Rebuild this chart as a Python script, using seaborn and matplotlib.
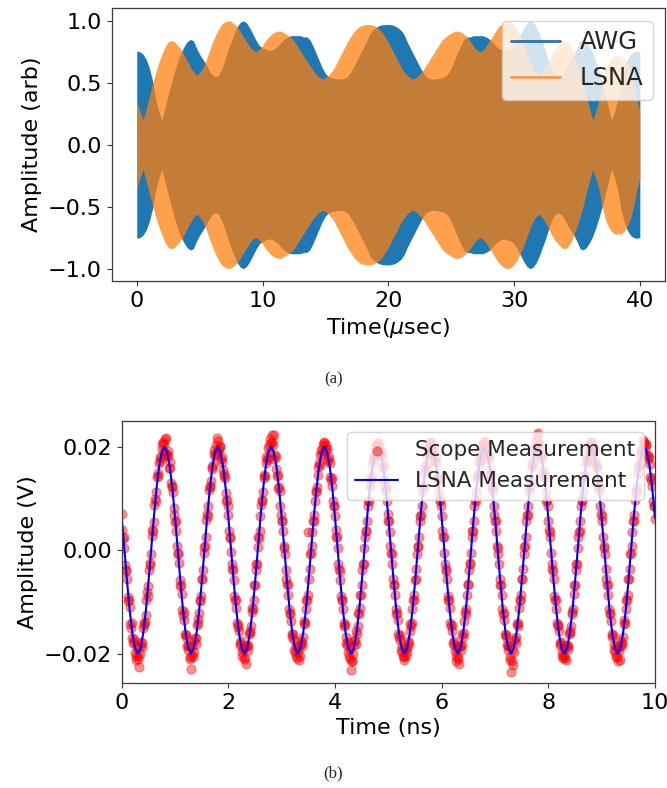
import numpy as np
import pandas as pd
import matplotlib
matplotlib.use("Agg")
import matplotlib.pyplot as plt
import seaborn as sns
from matplotlib.lines import Line2D

# ---------------- data: panel (a) envelopes, sampled every 0.25 usec ----------------
time_us = np.arange(161) * 0.25
awg_env = [
    0.755, 0.75, 0.73, 0.69, 0.62, 0.52, 0.37, 0.27, 0.20, 0.30,
    0.40, 0.50, 0.59, 0.67, 0.74, 0.79, 0.83, 0.85, 0.84, 0.78,
    0.73, 0.69, 0.65, 0.60, 0.565, 0.55, 0.56, 0.61, 0.68, 0.76,
    0.83, 0.90, 0.955, 0.99, 1.00, 0.98, 0.94, 0.89, 0.84, 0.80,
    0.78, 0.77, 0.76, 0.765, 0.78, 0.80, 0.83, 0.855, 0.87, 0.88,
    0.88, 0.88, 0.88, 0.87, 0.87, 0.85, 0.80, 0.74, 0.68, 0.62,
    0.575, 0.55, 0.54, 0.535, 0.53, 0.53, 0.535, 0.55, 0.585, 0.63,
    0.68, 0.73, 0.78, 0.83, 0.89, 0.925, 0.945, 0.96, 0.968, 0.97,
    0.97, 0.968, 0.96, 0.945, 0.925, 0.89, 0.83, 0.78, 0.73, 0.68,
    0.63, 0.585, 0.55, 0.535, 0.53, 0.53, 0.535, 0.54, 0.55, 0.575,
    0.62, 0.68, 0.74, 0.80, 0.85, 0.87, 0.87, 0.88, 0.88, 0.88,
    0.88, 0.87, 0.855, 0.83, 0.80, 0.78, 0.765, 0.76, 0.77, 0.78,
    0.80, 0.84, 0.89, 0.94, 0.98, 1.00, 0.99, 0.955, 0.90, 0.83,
    0.76, 0.68, 0.61, 0.56, 0.55, 0.565, 0.60, 0.65, 0.69, 0.73,
    0.78, 0.84, 0.85, 0.83, 0.79, 0.74, 0.67, 0.59, 0.50, 0.40,
    0.30, 0.20, 0.27, 0.37, 0.52, 0.62, 0.69, 0.73, 0.75, 0.755,
    0.75,
]
lsna_env = [
    0.36, 0.27, 0.20, 0.29, 0.39, 0.49, 0.58, 0.66, 0.73, 0.79,
    0.83, 0.84, 0.83, 0.80, 0.77, 0.73, 0.68, 0.63, 0.59, 0.56,
    0.58, 0.62, 0.68, 0.75, 0.82, 0.88, 0.93, 0.97, 0.99, 1.00,
    0.995, 0.975, 0.95, 0.91, 0.87, 0.83, 0.79, 0.76, 0.75, 0.77,
    0.80, 0.84, 0.87, 0.895, 0.91, 0.918, 0.915, 0.90, 0.885, 0.865,
    0.84, 0.80, 0.76, 0.72, 0.68, 0.64, 0.60, 0.57, 0.545, 0.53,
    0.54, 0.56, 0.59, 0.63, 0.68, 0.73, 0.78, 0.83, 0.87, 0.91,
    0.935, 0.955, 0.965, 0.97, 0.97,
    0.965, 0.955, 0.935,
    0.91, 0.87, 0.83, 0.78, 0.73, 0.68, 0.63, 0.59, 0.56, 0.54,
    0.53, 0.545, 0.57, 0.60, 0.64, 0.68, 0.72, 0.76, 0.80, 0.84,
    0.865, 0.885, 0.90, 0.915, 0.918, 0.91, 0.895, 0.87, 0.84, 0.80,
    0.77, 0.75, 0.76, 0.79, 0.83, 0.87, 0.91, 0.95, 0.975, 0.995,
    1.00, 0.99, 0.97, 0.93, 0.88, 0.82, 0.75, 0.68, 0.62, 0.58,
    0.56, 0.59, 0.63, 0.68, 0.73, 0.77, 0.80, 0.83, 0.84, 0.83,
    0.79, 0.73, 0.66, 0.58, 0.49, 0.39, 0.29, 0.20, 0.27, 0.36,
    0.50, 0.60, 0.66, 0.70, 0.72, 0.72, 0.72, 0.70, 0.66, 0.60,
    0.50, 0.37, 0.27,
]

# ---------------- data: panel (b), units of 0.1 mV ----------------
# scope trace 1: samples at 0.025 ns
scope_t1_ns = np.arange(401) * 0.025
scope1_01mV = [
    70, 22, 5, -40, -55, -98, -110, -150, -170, -172, -198, -212, -205, -225, -185, -188, -150, -145, -125, -80,
    -70, -25, -8, 40, 55, 100, 112, 150, 168, 172, 196, 210, 205, 218, 185, 182, 170, 130, 125, 82,
    55, 38, -6, -25, -70, -85, -126, -135, -168, -186, -183, -207, -230, -203, -197, -170, -169, -133, -122, -99,
    -55, -38, 6, 25, 70, 86, 125, 134, 158, 186, 183, 203, 212, 195, 200, 171, 155, 148, 110, 97,
    68, 26, -4, -37, -58, -97, -112, -148, -156, -183, -196, -192, -210, -220, -186, -183, -156, -147, -112, -96,
    -68, -26, 7, 24, 66, 97, 112, 146, 168, 174, 197, 215, 207, 222, 222, 184, 157, 146, 122, 85,
    57, 37, 4, -38, -66, -86, -124, -136, -168, -174, -197, -205, -196, -212, -184, -185, -167, -136, -113, -97,
    35, -36, -5, 35, 57, 96, 112, 146, 168, 184, 193, 204, 210, 196, 195, 172, 168, 136, 124, 86,
    67, 26, 5, -36, -57, -96, -113, -146, -168, -183, -197, -210, -232, -215, -184, -173, -156, -146, -124, -86,
    -67, -26, 5, 37, 56, 96, 124, 136, 167, 183, 196, 204, 208, 201, 184, 184, 167, 135, 123, 96,
    56, 36, -5, -26, -67, -86, -124, -135, -167, -173, -196, -205, -212, -192, -196, -185, -156, -147, -113, -96,
    -57, -37, 6, 26, 67, 85, 124, 147, 156, 184, 196, 206, 210, 192, 196, 172, 168, 135, 112, 97,
    67, 25, -5, -37, -56, -97, -112, -147, -156, -184, -195, -214, -206, -220, -185, -184, -168, -136, -123, -86,
    -66, -25, -6, 37, 57, 97, 113, 147, 167, 172, 197, 205, 212, 196, 184, 185, 156, 147, 124, 85,
    57, 37, 5, -26, -67, -86, -124, -135, -168, -183, -186, -207, -236, -214, -196, -172, -167, -146, -112, -97,
    -56, -36, 6, 25, 68, 86, 124, 135, 168, 184, 197, 212, 226, 205, 185, 184, 156, 147, 112, 97,
    56, 36, -6, -37, -56, -97, -113, -147, -156, -184, -196, -208, -204, -212, -184, -185, -156, -147, -123, -85,
    -67, -26, 5, 36, 57, 97, 112, 146, 168, 173, 196, 206, 210, 194, 197, 172, 167, 135, 124, 86,
    67, 26, 5, -36, -67, -86, -124, -136, -167, -183, -197, -206, -214, -195, -185, -184, -168, -135, -113, -97,
    -56, -37, -5, 36, 56, 97, 113, 147, 167, 184, 196, 214, 207, 205, 185, 183, 167, 135, 124, 86,
    60,
]
# scope trace 2: samples at 0.0125 + 0.025 ns
scope_t2_ns = 0.0125 + np.arange(400) * 0.025
scope2_01mV = [
    40, 25, -28, -38, -90, -96, -142, -140, -180, -178, -205, -190, -210, -200, -178, -180, -140, -138, -96, -88,
    -38, -28, 28, 38, 88, 96, 142, 144, 180, 178, 206, 190, 215, 186, 192, 160, 160, 122, 112, 68,
    56, 8, -8, -58, -68, -116, -120, -162, -164, -194, -186, -210, -188, -206, -176, -182, -144, -140, -96, -88,
    -56, -6, 8, 58, 66, 116, 122, 162, 164, 194, 186, 218, 192, 202, 176, 180, 144, 140, 96, 86,
    38, 24, -26, -38, -88, -96, -140, -144, -180, -176, -204, -190, -208, -186, -194, -162, -160, -120, -114, -68,
    -38, -26, 26, 38, 88, 96, 140, 144, 180, 178, 204, 190, 210, 204, 176, 180, 144, 120, 114, 68,
    56, 8, -8, -56, -68, -114, -122, -162, -162, -194, -186, -208, -192, -204, -176, -180, -142, -140, -96, -86,
    -56, -8, 8, 56, 68, 114, 122, 162, 164, 194, 186, 208, 192, 204, 176, 180, 142, 140, 96, 86,
    40, 26, -26, -40, -88, -96, -140, -144, -180, -178, -204, -192, -215, -200, -176, -182, -162, -122, -112, -86,
    -38, -26, 26, 38, 86, 96, 140, 144, 180, 176, 204, 190, 208, 186, 192, 162, 162, 120, 114, 70,
    56, 8, -8, -56, -68, -114, -122, -162, -164, -194, -186, -206, -190, -204, -176, -180, -142, -140, -96, -86,
    -56, -8, 8, 56, 68, 114, 122, 162, 164, 194, 186, 208, 192, 204, 176, 180, 142, 140, 96, 86,
    38, 26, -26, -40, -88, -96, -140, -144, -180, -176, -204, -192, -210, -186, -194, -162, -160, -120, -114, -68,
    -38, -26, 26, 38, 86, 96, 140, 144, 180, 176, 204, 190, 210, 204, 176, 180, 144, 120, 114, 68,
    56, 8, -8, -56, -68, -114, -122, -162, -164, -194, -186, -212, -192, -222, -176, -180, -142, -140, -96, -86,
    -56, -8, 8, 56, 68, 114, 122, 162, 164, 194, 200, 222, 208, 204, 176, 180, 142, 140, 96, 86,
    40, 26, -26, -40, -88, -96, -140, -144, -180, -178, -204, -192, -208, -186, -192, -162, -160, -120, -114, -68,
    -38, -26, 26, 38, 86, 96, 140, 144, 180, 176, 204, 190, 208, 186, 192, 162, 162, 120, 114, 70,
    56, 8, -8, -56, -68, -114, -122, -162, -164, -194, -186, -206, -190, -212, -176, -180, -142, -140, -96, -86,
    -56, -8, 8, 56, 68, 114, 122, 162, 164, 194, 186, 210, 196, 204, 176, 180, 142, 140, 96, 86,
]
lsna_t_ns = np.arange(201) * 0.05
lsna_01mV = [
    62, 0, -62, -118, -162, -190, -200, -190, -162, -118, -62, 0, 62, 118, 162, 190, 200, 190, 162, 118,
    62, 0, -62, -118, -162, -190, -200, -190, -162, -118, -62, 0, 62, 118, 162, 190, 200, 190, 162, 118,
    62, 0, -62, -118, -162, -190, -200, -190, -162, -118, -62, 0, 62, 118, 162, 190, 200, 190, 162, 118,
    62, 0, -62, -118, -162, -190, -200, -190, -162, -118, -62, 0, 62, 118, 162, 190, 200, 190, 162, 118,
    62, 0, -62, -118, -162, -190, -200, -190, -162, -118, -62, 0, 62, 118, 162, 190, 200, 190, 162, 118,
    62, 0, -62, -118, -162, -190, -200, -190, -162, -118, -62, 0, 62, 118, 162, 190, 200, 190, 162, 118,
    62, 0, -62, -118, -162, -190, -200, -190, -162, -118, -62, 0, 62, 118, 162, 190, 200, 190, 162, 118,
    62, 0, -62, -118, -162, -190, -200, -190, -162, -118, -62, 0, 62, 118, 162, 190, 200, 190, 162, 118,
    62, 0, -62, -118, -162, -190, -200, -190, -162, -118, -62, 0, 62, 118, 162, 190, 200, 190, 162, 118,
    62, 0, -62, -118, -162, -190, -200, -190, -162, -118, -62, 0, 62, 118, 162, 190, 200, 190, 162, 118,
    62,
]

series_names_a = ["AWG", "LSNA"]
series_names_b = ["Scope Measurement", "LSNA Measurement"]

# ---------------- style ----------------
sns.set_theme(style="ticks")
plt.rcParams["font.family"] = ["DejaVu Sans"]
plt.rcParams["mathtext.fontset"] = "dejavusans"
plt.rcParams.update({
    "axes.edgecolor": "#3a3a3a",
    "axes.linewidth": 0.9,
    "xtick.color": "#3a3a3a",
    "ytick.color": "#3a3a3a",
    "xtick.labelcolor": "black",
    "ytick.labelcolor": "black",
    "xtick.major.size": 3.5,
    "ytick.major.size": 3.5,
    "xtick.major.width": 0.8,
    "ytick.major.width": 0.8,
    "axes.labelcolor": "black",
})

FS = 16
BLUE = "#1f77b4"
ORANGE = "#ff7f0e"
ALPHA_O = 0.74

fig = plt.figure(figsize=(6.67, 7.88), dpi=100)
ax1 = fig.add_axes([0.1673, 0.6434, 0.8297, 0.3459])
ax2 = fig.add_axes([0.1826, 0.1332, 0.7994, 0.3325])

# ---------------- panel (a) ----------------
awg = np.array(awg_env)
lsna = np.array(lsna_env)
ax1.fill_between(time_us, -awg, awg, color=BLUE, lw=0)
ax1.fill_between(time_us, -lsna, lsna, color=ORANGE, alpha=ALPHA_O, lw=0)
ax1.set_xlim(-2, 42)
ax1.set_ylim(-1.1, 1.1)
ax1.set_xticks([0, 10, 20, 30, 40])
ax1.set_yticks([-1.0, -0.5, 0.0, 0.5, 1.0])
ax1.tick_params(labelsize=FS)
ax1.set_xlabel(r"Time($\mu$sec)", fontsize=FS)
ax1.set_ylabel("Amplitude (arb)", fontsize=FS)
handles = [Line2D([0], [0], color=BLUE, lw=2),
           Line2D([0], [0], color=ORANGE, lw=2, alpha=ALPHA_O)]
ax1.legend(handles, series_names_a, loc="upper right", fontsize=17.5)

# ---------------- panel (b) ----------------
df_scope = pd.DataFrame({
    "t": np.concatenate([scope_t1_ns, scope_t2_ns]),
    "v": np.concatenate([np.array(scope1_01mV), np.array(scope2_01mV)]) * 1e-4,
})
df_lsna = pd.DataFrame({"t": lsna_t_ns, "v": np.array(lsna_01mV) * 1e-4})
sns.scatterplot(data=df_scope, x="t", y="v", ax=ax2, color="red", alpha=0.45,
                s=44, edgecolor="red", linewidth=0.6, label=series_names_b[0])
sns.lineplot(data=df_lsna, x="t", y="v", ax=ax2, color="blue", lw=1.5,
             label=series_names_b[1])
ax2.set_xlim(0, 10)
ax2.set_ylim(-0.0257, 0.025)
ax2.set_yticks([-0.02, 0.0, 0.02])
ax2.set_xticks([0, 2, 4, 6, 8, 10])
ax2.tick_params(labelsize=FS)
ax2.set_xlabel("Time (ns)", fontsize=FS)
ax2.set_ylabel("Amplitude (V)", fontsize=FS)
ax2.legend(loc="upper right", fontsize=FS - 0.5)

fig.text(0.5, 0.518, "(a)", ha="center", va="center", family="Liberation Serif", fontsize=12)
fig.text(0.5, 0.019, "(b)", ha="center", va="center", family="Liberation Serif", fontsize=12)

fig.savefig("out.png", dpi=100)
